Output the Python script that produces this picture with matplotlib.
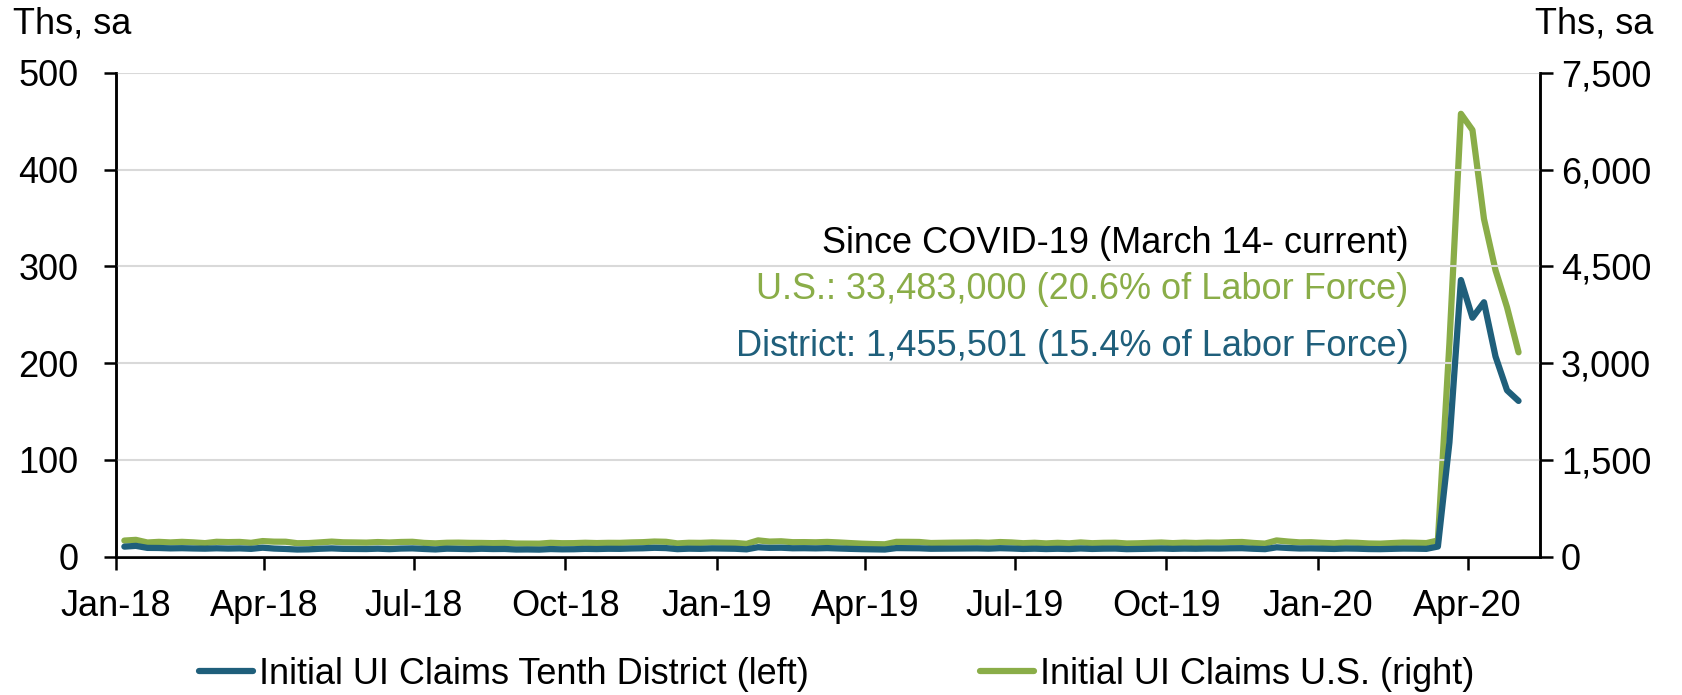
import matplotlib
matplotlib.use('Agg')
import matplotlib.pyplot as plt
import matplotlib.dates as mdates
from matplotlib.ticker import FuncFormatter, MultipleLocator
import pandas as pd

plt.rcParams['font.family'] = ['Liberation Sans', 'DejaVu Sans']

# weekly initial claims, week ending Saturday, thousands, sa
weeks = pd.date_range('2018-01-06', '2020-05-02', freq='W-SAT')

district = [
    10.4, 11.2, 9.1, 9.0,
    8.6, 8.8, 8.5, 8.3,
    8.7, 8.4, 8.6, 8.1, 9.3,
    8.4, 8.0, 7.4, 7.6,
    8.2, 8.6, 8.1, 8.0,
    7.9, 8.3, 7.8, 8.4, 8.6,
    8.0, 7.5, 8.3, 8.1,
    7.8, 8.2, 7.9, 8.0,
    7.4, 7.5, 7.3, 7.9, 7.6,
    7.7, 8.1, 7.9, 8.2,
    8.1, 8.5, 8.7, 9.2,
    8.9, 7.8, 8.3, 8.1, 8.6,
    # 2019
    8.4, 8.2, 7.6, 9.8,
    9.1, 9.3, 8.7, 8.8,
    8.6, 8.9, 8.5, 8.1, 7.8,
    7.6, 7.4, 8.9, 8.8,
    8.7, 8.2, 8.3, 8.4,
    8.5, 8.6, 8.3, 8.8, 8.5,
    8.0, 8.3, 7.9, 8.2,
    7.9, 8.5, 8.0, 8.3, 8.4,
    7.8, 8.0, 8.2, 8.5,
    8.1, 8.4, 8.2, 8.5,
    8.4, 8.7, 8.8, 8.2, 7.8,
    9.7, 9.0, 8.5, 8.6,
    # 2020
    8.3, 8.0, 8.5, 8.3,
    7.9, 7.8, 8.1, 8.4, 8.3,
    8.1, 10.5, 118.0, 286.0,
    247.0, 263.0, 207.0, 172.0,
    161.0,
]

us = [
    250, 261, 220, 230,
    221, 230, 222, 210,
    231, 226, 229, 215, 242,
    233, 232, 209, 211,
    222, 234, 223, 221,
    218, 227, 220, 228, 231,
    214, 207, 216, 218,
    214, 213, 210, 213,
    204, 203, 202, 215, 209,
    210, 216, 211, 215,
    214, 221, 225, 235,
    231, 206, 216, 214, 221,
    # 2019
    216, 213, 199, 253,
    234, 239, 225, 226,
    223, 229, 221, 211, 202,
    196, 192, 230, 230,
    228, 212, 215, 218,
    219, 222, 216, 227, 221,
    209, 216, 206, 215,
    207, 221, 209, 215, 217,
    205, 208, 214, 220,
    210, 218, 212, 219,
    217, 225, 228, 213, 203,
    252, 235, 222, 224,
    # 2020
    214, 207, 220, 215,
    205, 202, 211, 219, 216,
    211, 251, 3307, 6867,
    6615, 5237, 4442, 3867,
    3169,
]

blue = '#1f5f7b'
green = '#8aad48'
fs = 26

fig = plt.figure(figsize=(16.83, 6.95), dpi=100)
ax = fig.add_axes([0.069, 0.199, 0.846, 0.696])
ax2 = ax.twinx()

l1, = ax.plot(weeks, district, color=blue, lw=4.5, solid_capstyle='round',
              label='Initial UI Claims Tenth District (left)', zorder=3)
l2, = ax2.plot(weeks, us, color=green, lw=4.5, solid_capstyle='round',
               label='Initial UI Claims U.S. (right)', zorder=2)
ax.set_zorder(ax2.get_zorder() + 1)
ax.patch.set_visible(False)

ax.set_ylim(0, 500)
ax2.set_ylim(0, 7500)
ax.yaxis.set_major_locator(MultipleLocator(100))
ax2.yaxis.set_major_locator(MultipleLocator(1500))
ax2.yaxis.set_major_formatter(FuncFormatter(lambda v, p: f'{v:,.0f}'))
ax.set_xlim(pd.Timestamp('2018-01-01'), pd.Timestamp('2020-05-15'))
ax.xaxis.set_major_locator(mdates.MonthLocator(bymonth=[1, 4, 7, 10]))
ax.xaxis.set_major_formatter(mdates.DateFormatter('%b-%y'))

ax.grid(axis='y', color='#d9d9d9', lw=1.5, zorder=0)
ax.set_axisbelow(True)

for a in (ax, ax2):
    a.spines['top'].set_visible(False)
    for s in ('left', 'right', 'bottom'):
        a.spines[s].set_linewidth(1.8)
        a.spines[s].set_color('black')
ax.tick_params(axis='y', labelsize=fs, length=9, width=1.8, pad=18)
ax2.tick_params(axis='y', labelsize=fs, length=9, width=1.8, pad=6)
ax.tick_params(axis='x', labelsize=fs, length=9, width=1.8, pad=14)

fig.text(0.008, 0.99, 'Ths, sa', fontsize=fs, va='top', ha='left')
fig.text(0.912, 0.99, 'Ths, sa', fontsize=fs, va='top', ha='left')

fig.text(0.837, 0.650, 'Since COVID-19 (March 14- current)', fontsize=fs,
         ha='right', va='center', color='black')
fig.text(0.837, 0.583, 'U.S.: 33,483,000 (20.6% of Labor Force)', fontsize=fs,
         ha='right', va='center', color=green)
fig.text(0.837, 0.502, 'District: 1,455,501 (15.4% of Labor Force)', fontsize=fs,
         ha='right', va='center', color=blue)

fig.legend(handles=[l1, l2], loc='center', bbox_to_anchor=(0.497, 0.03),
           ncol=2, frameon=False, fontsize=fs, columnspacing=4.75,
           handlelength=1.5, handletextpad=0.15)

fig.savefig('out.png', dpi=100)
